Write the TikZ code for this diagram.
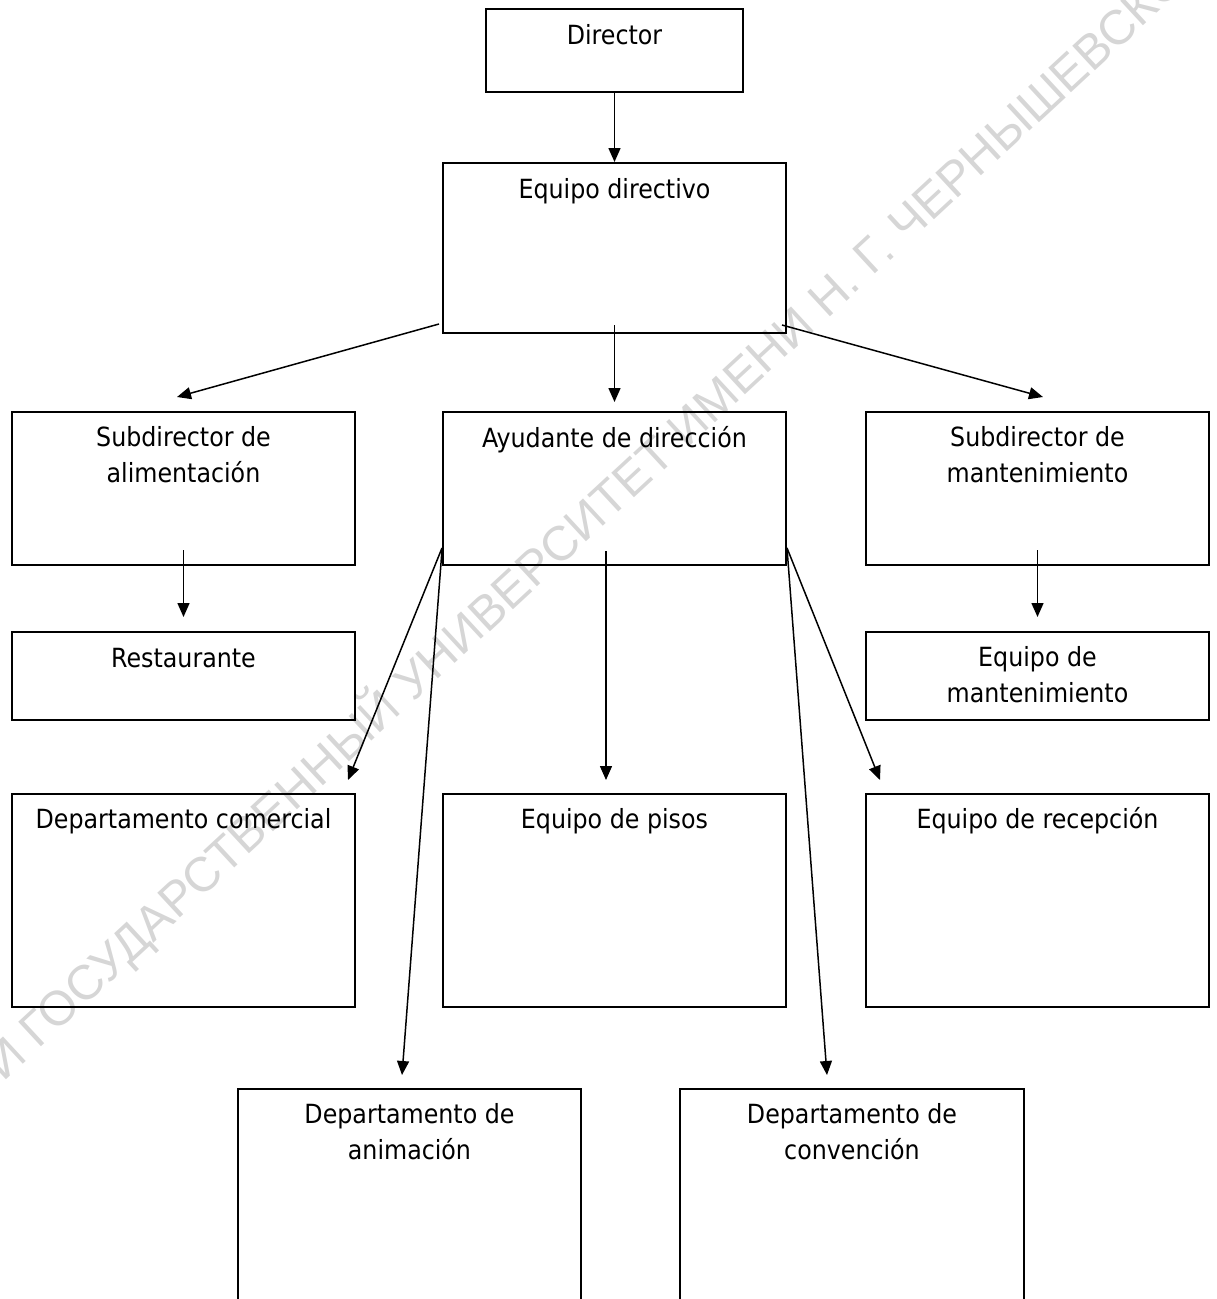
\documentclass[tikz,border=0pt]{standalone}
\usepackage{fontspec}
\setmainfont{DejaVu Sans Condensed}
\newfontfamily\wmfont{Liberation Sans}
\usetikzlibrary{arrows.meta,calc}
\begin{document}
\begin{tikzpicture}[x=1pt,y=-1pt,
  box/.style={draw, line width=2.9pt, inner sep=0pt, outer sep=0pt, minimum width=343pt},
  lbl/.style={font=\fontsize{26.4}{36}\selectfont, align=center, inner sep=0pt, anchor=base},
  arr/.style={line width=1.5pt, -{Triangle[length=14pt,width=12pt]}},
  wmark/.style={font=\wmfont\fontsize{48.6}{50}\selectfont, text=black!16, rotate=42.8, inner sep=0pt}]
\useasboundingbox (0,0) rectangle (1217,1299);
\clip (0,0) rectangle (1217,1299);
% watermark
\node[wmark] (wm) at (490,608) {САРАТОВСКИЙ ГОСУДАРСТВЕННЫЙ УНИВЕРСИТЕТ ИМЕНИ Н. Г. ЧЕРНЫШЕВСКОГО};
% boxes
\node[box, minimum width=257pt, minimum height=83pt] (dir) at (614.5,50.5) {};
\node[box, minimum height=170pt] (eq) at (614.5,248) {};
\node[box, minimum height=153pt] (sa) at (183.5,488.5) {};
\node[box, minimum height=153pt] (ay) at (614.5,488.5) {};
\node[box, minimum height=153pt] (sm) at (1037.5,488.5) {};
\node[box, minimum height=88pt] (rest) at (183.5,676) {};
\node[box, minimum height=88pt] (em) at (1037.5,676) {};
\node[box, minimum height=213pt] (dc) at (183.5,900.5) {};
\node[box, minimum height=213pt] (ep) at (614.5,900.5) {};
\node[box, minimum height=213pt] (er) at (1037.5,900.5) {};
\node[box, minimum height=260pt] (da) at (409.5,1219) {};
\node[box, minimum width=344pt, minimum height=260pt] (dv) at (852,1219) {};
% labels
\node[lbl] (dir-t) at ($(dir.north)+(0,35)$) {Director};
\node[lbl] (eq-t) at ($(eq.north)+(0,35)$) {Equipo directivo};
\node[lbl] (sa-t) at ($(sa.north)+(0,70)$) {Subdirector de\\alimentación};
\node[lbl] (ay-t) at ($(ay.north)+(0,35)$) {Ayudante de dirección};
\node[lbl] (sm-t) at ($(sm.north)+(0,70)$) {Subdirector de\\mantenimiento};
\node[lbl] (rest-t) at ($(rest.north)+(0,35)$) {Restaurante};
\node[lbl] (em-t) at ($(em.north)+(0,70)$) {Equipo de\\mantenimiento};
\node[lbl] (dc-t) at ($(dc.north)+(0,34)$) {Departamento comercial};
\node[lbl] (ep-t) at ($(ep.north)+(0,34)$) {Equipo de pisos};
\node[lbl] (er-t) at ($(er.north)+(0,34)$) {Equipo de recepción};
\node[lbl] (da-t) at ($(da.north)+(0,70)$) {Departamento de\\animación};
\node[lbl] (dv-t) at ($(dv.north)+(0,70)$) {Departamento de\\convención};
% connectors
\draw[arr] (dir.south) -- ($(eq.north)+(0,-1)$);
\draw[arr] ($(eq.south west)+(-4,-9)$) -- ($(sa.north)+(-6.5,-15)$);
\draw[arr] ($(eq.south)+(0,-8)$) -- ($(ay.north)+(0,-10)$);
\draw[arr] ($(eq.south east)+(-4,-8)$) -- ($(sm.north)+(5.5,-15)$);
\draw[arr] ($(sa.south)+(0,-15)$) -- ($(rest.north)+(0,-15)$);
\draw[arr] ($(sm.south)+(0,-15)$) -- ($(em.north)+(0,-15)$);
\draw[arr] ($(ay.south west)+(-1,-17)$) -- ($(dc.north east)+(-7,-14)$);
\draw[arr] ($(ay.south west)+(-1,-15)$) -- ($(da.north)+(-7.5,-14)$);
\draw[arr] ($(ay.south)+(-8.5,-14)$) -- ($(ep.north)+(-8.5,-14)$);
\draw[arr] ($(ay.south east)+(1,-17)$) -- ($(dv.north)+(-25,-14)$);
\draw[arr] ($(ay.south east)+(1,-17)$) -- ($(er.north west)+(14,-14)$);
\end{tikzpicture}
\end{document}
